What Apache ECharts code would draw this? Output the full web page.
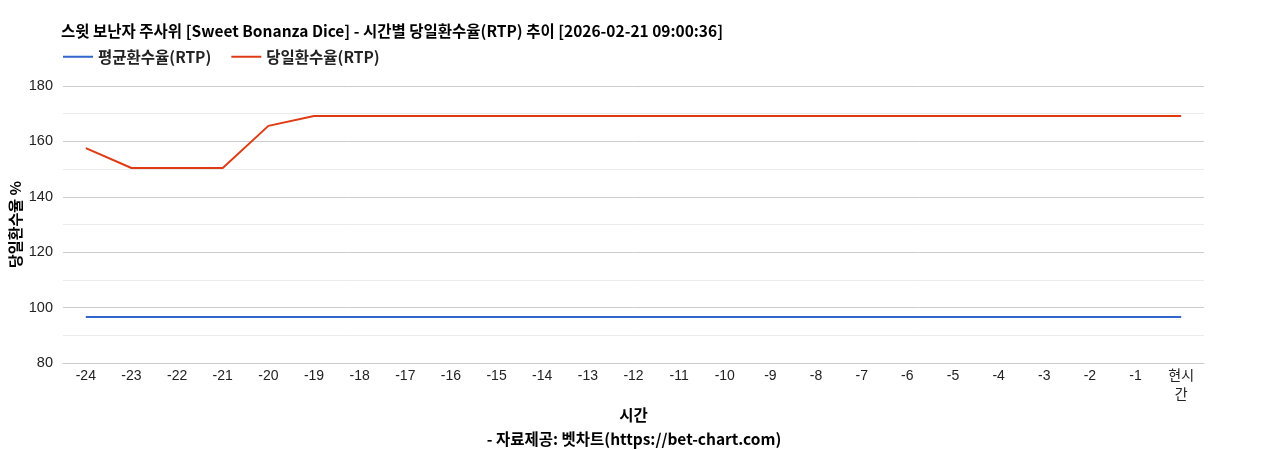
<!DOCTYPE html>
<html>
<head>
<meta charset="utf-8">
<script src="https://cdn.jsdelivr.net/npm/echarts@6/dist/echarts.min.js"></script>
<style>
  html, body { margin: 0; padding: 0; background: #fff; }
  #chart { width: 1268px; height: 450px; }
</style>
</head>
<body>
<div id="chart"></div>
<script>
// 시간 축 (24시간 전 ~ 현재)
var hours = ['-24', '-23', '-22', '-21', '-20', '-19', '-18', '-17', '-16', '-15', '-14', '-13',
  '-12', '-11', '-10', '-9', '-8', '-7', '-6', '-5', '-4', '-3', '-2', '-1', '현시간'];

// 평균환수율 (RTP)
var avgRtp = [96.6, 96.6, 96.6, 96.6, 96.6, 96.6, 96.6, 96.6, 96.6, 96.6, 96.6, 96.6,
  96.6, 96.6, 96.6, 96.6, 96.6, 96.6, 96.6, 96.6, 96.6, 96.6, 96.6, 96.6, 96.6];

// 당일환수율 (RTP)
var dayRtp = [157.6, 150.4, 150.4, 150.4, 165.6, 169.2, 169.2, 169.2, 169.2, 169.2, 169.2, 169.2,
  169.2, 169.2, 169.2, 169.2, 169.2, 169.2, 169.2, 169.2, 169.2, 169.2, 169.2, 169.2, 169.2];

var cjk = '"Noto Sans CJK KR", "Noto Sans", sans-serif';
var arial = '"Liberation Sans", Arial, "Noto Sans CJK KR", sans-serif';

var option = {
  animation: false,
  title: [{
    text: '스윗 보난자 주사위 [Sweet Bonanza Dice] - 시간별 당일환수율(RTP) 추이 [2026-02-21 09:00:36]',
    left: 56,
    top: 18,
    textStyle: { fontFamily: cjk, fontSize: 15.5, fontWeight: 'bold', color: '#000' }
  }, {
    text: '- 자료제공: 벳차트(https://bet-chart.com)',
    left: 'center',
    top: 426,
    textStyle: { fontFamily: cjk, fontSize: 15.5, fontWeight: 'bold', color: '#000' }
  }],
  legend: {
    left: 58,
    top: 44,
    itemWidth: 30,
    itemHeight: 2,
    itemGap: 20,
    icon: 'rect',
    textStyle: { fontFamily: cjk, fontSize: 15.5, fontWeight: 'bold', color: '#222' },
    data: ['평균환수율(RTP)', '당일환수율(RTP)']
  },
  grid: { left: 63, right: 64, top: 86, bottom: 87, outerBoundsMode: 'none' },
  xAxis: {
    type: 'category',
    data: hours,
    name: '시간',
    nameLocation: 'middle',
    nameGap: 44,
    nameMoveOverlap: false,
    nameTextStyle: { fontFamily: cjk, fontSize: 15.5, fontWeight: 'bold', color: '#000' },
    axisLine: { lineStyle: { color: '#ccc' } },
    axisTick: { show: false },
    axisLabel: {
      interval: 0,
      margin: 4,
      fontFamily: arial,
      fontSize: 14,
      color: '#222',
      width: 38,
      overflow: 'break',
      lineHeight: 19
    }
  },
  yAxis: {
    type: 'value',
    min: 80,
    max: 180,
    interval: 20,
    name: '당일환수율 %',
    nameLocation: 'middle',
    nameGap: 40,
    nameMoveOverlap: false,
    nameTextStyle: { fontFamily: cjk, fontSize: 15, fontWeight: 'bold', color: '#000' },
    axisLine: { show: false },
    axisTick: { show: false },
    axisLabel: { margin: 10, fontFamily: arial, fontSize: 14.5, color: '#222' },
    splitLine: { lineStyle: { color: '#ccc' } },
    minorTick: { show: false, splitNumber: 2 },
    minorSplitLine: { show: true, lineStyle: { color: '#ebebeb' } }
  },
  series: [{
    name: '평균환수율(RTP)',
    type: 'line',
    data: avgRtp,
    showSymbol: false,
    color: '#3366cc',
    lineStyle: { width: 2 }
  }, {
    name: '당일환수율(RTP)',
    type: 'line',
    data: dayRtp,
    showSymbol: false,
    color: '#de3b14',
    lineStyle: { width: 2 }
  }]
};

var myChart = echarts.init(document.getElementById('chart'));
myChart.setOption(option);
</script>
</body>
</html>
